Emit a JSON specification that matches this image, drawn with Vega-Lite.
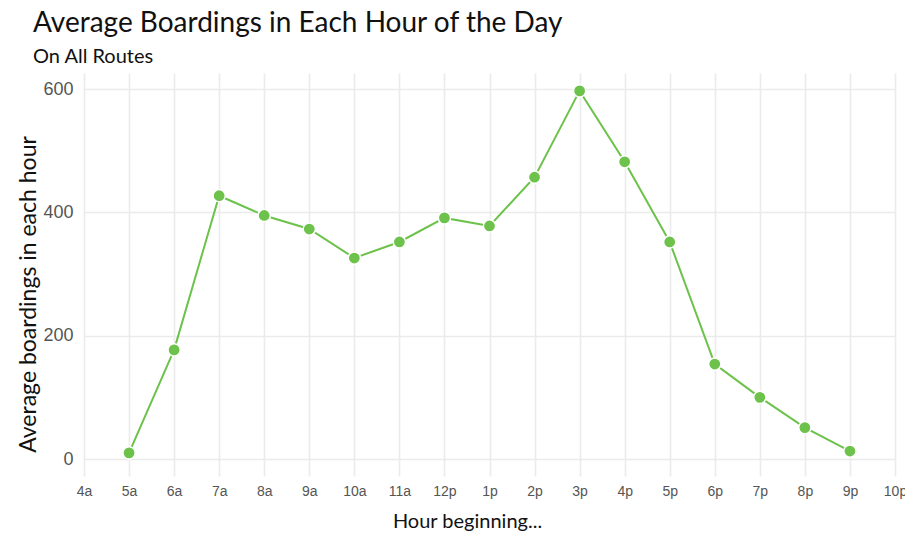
{
  "$schema": "https://vega.github.io/schema/vega-lite/v6.json",
  "width": 811,
  "height": 403,
  "autosize": "none",
  "padding": {"left": 84, "top": 73, "right": 10, "bottom": 57},
  "background": "white",
  "title": {
    "text": "Average Boardings in Each Hour of the Day",
    "subtitle": "On All Routes",
    "anchor": "start",
    "frame": "group",
    "dx": -51,
    "offset": 6,
    "font": "Lato",
    "fontSize": 28,
    "fontWeight": "normal",
    "color": "#111111",
    "subtitleFont": "Lato",
    "subtitleFontSize": 20,
    "subtitleColor": "#111111",
    "subtitlePadding": 9
  },
  "config": {
    "view": {"stroke": null},
    "axis": {
      "grid": true,
      "gridColor": "#ebebeb",
      "gridWidth": 1.6,
      "domain": false,
      "ticks": false,
      "labelFont": "Liberation Sans",
      "titleFont": "Lato",
      "titleFontWeight": "normal",
      "titleColor": "#111111",
      "labelColor": "#555555"
    }
  },
  "data": {
    "values": [
      {"hour": 5, "boardings": 10},
      {"hour": 6, "boardings": 177},
      {"hour": 7, "boardings": 427},
      {"hour": 8, "boardings": 395},
      {"hour": 9, "boardings": 373},
      {"hour": 10, "boardings": 326},
      {"hour": 11, "boardings": 352},
      {"hour": 12, "boardings": 391},
      {"hour": 13, "boardings": 378},
      {"hour": 14, "boardings": 457},
      {"hour": 15, "boardings": 597},
      {"hour": 16, "boardings": 482},
      {"hour": 17, "boardings": 352},
      {"hour": 18, "boardings": 154},
      {"hour": 19, "boardings": 100},
      {"hour": 20, "boardings": 51},
      {"hour": 21, "boardings": 13}
    ]
  },
  "encoding": {
    "x": {
      "field": "hour",
      "type": "quantitative",
      "scale": {"domain": [4, 22], "nice": false, "zero": false},
      "axis": {
        "values": [4,5,6,7,8,9,10,11,12,13,14,15,16,17,18,19,20,21,22],
        "labelExpr": "datum.value < 12 ? datum.value + 'a' : (datum.value == 12 ? '12p' : (datum.value - 12) + 'p')",
        "title": "Hour beginning...",
        "titleFontSize": 20,
        "titleX": 383,
        "titleY": 51,
        "titleAlign": "center",
        "titleBaseline": "alphabetic",
        "labelFontSize": 14,
        "labelPadding": 8,
        "labelFlush": false,
        "labelOverlap": false
      }
    },
    "y": {
      "field": "boardings",
      "type": "quantitative",
      "scale": {"domain": [-27.5, 626], "nice": false, "zero": false},
      "axis": {
        "values": [0, 200, 400, 600],
        "title": "Average boardings in each hour",
        "titleFontSize": 23,
        "titleX": -49,
        "titleY": 221,
        "titleAngle": -90,
        "titleAlign": "center",
        "titleBaseline": "alphabetic",
        "labelFontSize": 18,
        "labelPadding": 11
      }
    }
  },
  "layer": [
    {"mark": {"type": "line", "color": "#6cc24a", "strokeWidth": 2}},
    {"mark": {"type": "point", "filled": true, "fill": "#6cc24a", "stroke": "white", "strokeWidth": 1.5, "size": 150, "opacity": 1}}
  ]
}
